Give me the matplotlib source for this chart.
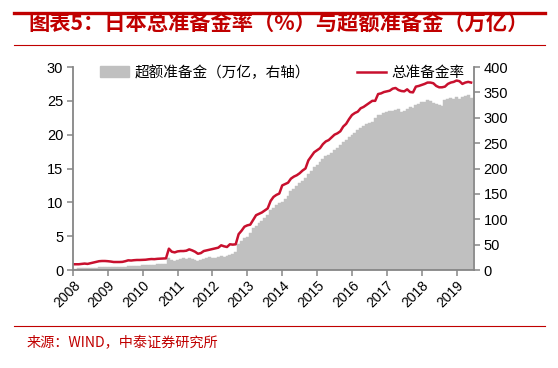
import matplotlib
matplotlib.use("Agg")
import matplotlib.pyplot as plt
from matplotlib.patches import Patch
from matplotlib.lines import Line2D
import numpy as np

plt.rcParams['font.family'] = ['Noto Sans CJK SC', 'DejaVu Sans']

# Monthly data, Jan 2008 - Jun 2019
reserve_ratio = [
    # 2008
    0.85, 0.85, 0.85, 0.9, 0.95, 0.9, 1.0, 1.1, 1.2, 1.3, 1.33, 1.33,
    # 2009
    1.3, 1.25, 1.18, 1.18, 1.18, 1.2, 1.3, 1.43, 1.4, 1.45, 1.48, 1.48,
    # 2010
    1.5, 1.52, 1.58, 1.62, 1.6, 1.65, 1.68, 1.7, 1.72, 3.15, 2.7, 2.6,
    # 2011
    2.75, 2.8, 2.8, 2.85, 3.05, 2.9, 2.7, 2.4, 2.5, 2.8, 2.9, 3.0,
    # 2012
    3.1, 3.2, 3.3, 3.65, 3.5, 3.4, 3.8, 3.75, 3.8, 5.3, 5.8, 6.4,
    # 2013
    6.6, 6.7, 7.4, 8.1, 8.3, 8.5, 8.8, 9.1, 10.2, 10.8, 11.1, 11.3,
    # 2014
    12.5, 12.7, 12.9, 13.5, 13.8, 14.0, 14.3, 14.7, 15.0, 16.2, 16.8, 17.4,
    # 2015
    17.7, 18.0, 18.6, 19.0, 19.2, 19.6, 20.0, 20.2, 20.5, 21.2, 21.6, 22.3,
    # 2016
    22.9, 23.2, 23.4, 23.9, 24.1, 24.4, 24.7, 25.0, 25.0, 26.0, 26.1, 26.3,
    # 2017
    26.4, 26.5, 26.8, 26.9, 26.6, 26.45, 26.4, 26.7, 26.3, 26.25, 27.1, 27.2,
    # 2018
    27.35, 27.5, 27.7, 27.7, 27.6, 27.2, 27.0, 27.0, 27.1, 27.5, 27.7, 27.8,
    # 2019
    28.0, 27.9, 27.5, 27.7, 27.8, 27.7,
]

excess_reserves = [
    # 2008
    2, 2, 3, 3, 3, 3, 3, 4, 4, 5, 5, 6,
    # 2009
    6, 6, 5, 5, 5, 6, 6, 7, 7, 8, 8, 8,
    # 2010
    9, 9, 10, 10, 10, 11, 11, 12, 12, 23, 19, 18,
    # 2011
    20, 22, 23, 22, 24, 22, 20, 17, 19, 22, 24, 26,
    # 2012
    24, 23, 25, 28, 26, 27, 30, 32, 36, 52, 58, 64,
    # 2013
    66, 72, 82, 86, 92, 96, 102, 108, 118, 122, 128, 132,
    # 2014
    134, 140, 146, 155, 160, 165, 171, 176, 182, 190, 196, 202,
    # 2015
    207, 213, 219, 224, 226, 230, 236, 241, 246, 252, 256, 262,
    # 2016
    266, 270, 276, 280, 284, 287, 289, 292, 300, 305, 306, 310,
    # 2017
    311, 313, 314, 315, 317, 312, 313, 318, 322, 320, 326, 328,
    # 2018
    331, 332, 334, 333, 330, 328, 325, 323, 334, 336, 338, 337,
    # 2019
    340, 337, 341, 343, 345, 338,
]

start_year = 2008
years = list(range(2008, 2020))
left_ticks = [0, 5, 10, 15, 20, 25, 30]
right_ticks = [0, 50, 100, 150, 200, 250, 300, 350, 400]

title = "图表5：日本总准备金率（%）与超额准备金（万亿）"
source = "来源：WIND，中泰证券研究所"
label_bar = "超额准备金（万亿，右轴）"
label_line = "总准备金率"

RED = "#C8102E"
DARKRED = "#C00000"
GRAY = "#C0C0C0"
AXGRAY = "#868686"

x = start_year + np.arange(len(reserve_ratio)) / 12.0

fig = plt.figure(figsize=(5.58, 3.68), dpi=100)
ax = fig.add_axes([73/558, 1-270/368, (474-73)/558, (270-67)/368])
ax2 = ax.twinx()

ax2.bar(x, excess_reserves, width=1/12, color=GRAY, edgecolor=GRAY, linewidth=0.3, align='center')
ax.plot(x, reserve_ratio, color=RED, linewidth=1.8, solid_joinstyle='round')

ax.set_zorder(ax2.get_zorder() + 1)
ax.patch.set_visible(False)

ax.set_xlim(2008, 2019.5)
ax.set_ylim(0, 30)
ax2.set_ylim(0, 400)
ax.set_yticks(left_ticks)
ax2.set_yticks(right_ticks)
ax.set_xticks(years)
ax.set_xticklabels([str(y) for y in years], rotation=45, ha='right', rotation_mode='anchor',
                   fontsize=10, family=['Liberation Sans'])
for lbl in ax.get_yticklabels():
    lbl.set_family(['Liberation Sans']); lbl.set_fontsize(10.5)
for lbl in ax2.get_yticklabels():
    lbl.set_family(['Liberation Sans']); lbl.set_fontsize(10.5)

for a in (ax, ax2):
    a.spines['top'].set_visible(False)
    for s in ('left', 'right', 'bottom'):
        a.spines[s].set_color(AXGRAY)
        a.spines[s].set_linewidth(1.3)
ax.spines['right'].set_visible(False)
ax2.spines['left'].set_visible(False)
ax2.spines['bottom'].set_visible(False)
ax.tick_params(axis='y', direction='out', length=4, width=1.1, color=AXGRAY, pad=3)
ax2.tick_params(axis='y', direction='out', length=4, width=1.1, color=AXGRAY, pad=3)
ax.tick_params(axis='x', direction='out', length=4, width=1.1, color=AXGRAY, pad=2)

handles = [Patch(facecolor=GRAY, edgecolor=GRAY), Line2D([0], [0], color=RED, lw=1.8)]
leg = ax.legend(handles, [label_bar, label_line], ncol=2, loc='upper left',
                bbox_to_anchor=(0.035, 1.075), frameon=False, fontsize=10.5,
                handlelength=2.0, handletextpad=0.35, columnspacing=3.2,
                handleheight=0.7)

# Title and decoration
fig.text(28/558, 1-23/368, title, color=DARKRED, fontsize=15.3, fontweight='bold',
         ha='left', va='center')
fig.add_artist(Line2D([14/558, 545/558], [1-12.5/368, 1-12.5/368], color=DARKRED, lw=2.4))
fig.add_artist(Line2D([14/558, 545/558], [1-45/368, 1-45/368], color=DARKRED, lw=0.8))
fig.add_artist(Line2D([14/558, 545/558], [1-326/368, 1-326/368], color=DARKRED, lw=0.8))
fig.text(27/558, 1-343/368, source, color=DARKRED, fontsize=10.2, ha='left', va='center')

fig.savefig("out.png", dpi=100)
